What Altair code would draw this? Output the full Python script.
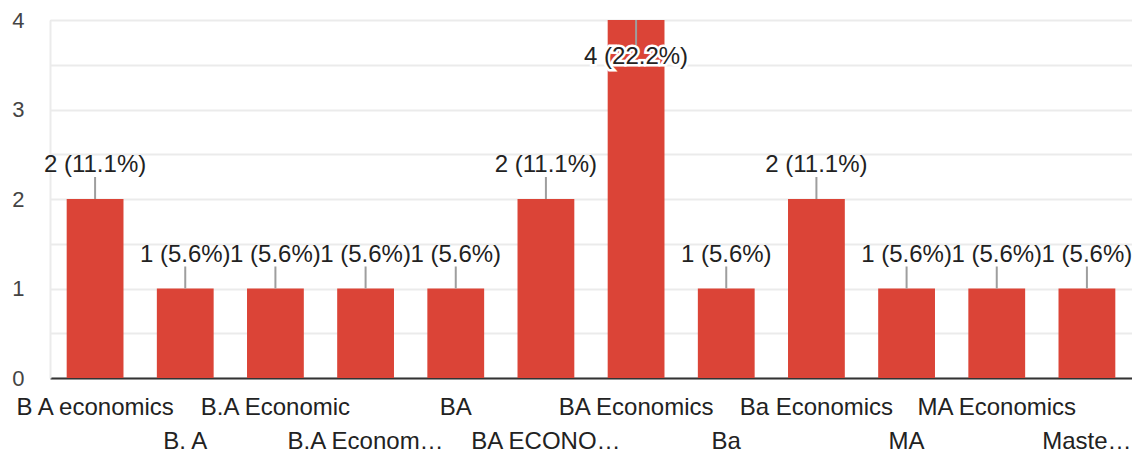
import altair as alt
import pandas as pd
import json

categories = ["B A economics", "B. A", "B.A Economic", "B.A Econom…", "BA",
              "BA ECONO…", "BA Economics", "Ba", "Ba Economics", "MA",
              "MA Economics", "Maste…"]
counts = [2, 1, 1, 1, 1, 2, 4, 1, 2, 1, 1, 1]

total = sum(counts)
df = pd.DataFrame({
    "cat": categories,
    "count": counts,
    "label": [f"{c} ({c / total * 100:.1f}%)" for c in counts],
})
vmax = max(counts)

FONT = "Liberation Sans"
RED = "#db4437"
FS = 24

cats_js = json.dumps(categories)
x_enc = alt.X(
    "cat:N", sort=categories, title=None,
    scale=alt.Scale(paddingInner=0.37, paddingOuter=0.185),
    axis=alt.Axis(
        labelAngle=0, ticks=False, domainColor="#333333", domainWidth=2,
        labelFont=FONT, labelFontSize=FS, labelColor="#222222",
        labelBaseline="top", labelPadding=17, labelLineHeight=34,
        labelOverlap=False, labelLimit=400, labelBound=False,
        labelExpr=f"indexof({cats_js}, datum.value) % 2 == 1 ? ['', datum.value] : datum.value",
    ),
)
y_scale = alt.Scale(domain=[0, 4], nice=False)
y_enc = alt.Y(
    "count:Q", title=None, scale=y_scale,
    axis=alt.Axis(
        values=[0, 0.5, 1, 1.5, 2, 2.5, 3, 3.5, 4],
        labelExpr="datum.value % 1 == 0 ? format(datum.value, 'd') : ''",
        grid=True, gridColor="#ebebeb", gridWidth=2,
        domain=True, domainColor="#ebebeb", domainWidth=2,
        ticks=False, labelFont=FONT, labelFontSize=22, labelColor="#444444",
        labelPadding=26,
    ),
)

base = alt.Chart(df)

bars = base.mark_bar(color=RED).encode(x=x_enc, y=y_enc)

outside = base.transform_filter(f"datum.count < {vmax}")
inside = base.transform_filter(f"datum.count >= {vmax}")

lead_out = outside.transform_calculate(end="datum.count + 0.246").mark_rule(
    color="#9e9e9e", strokeWidth=2
).encode(x=alt.X("cat:N", sort=categories), y=alt.Y("count:Q", scale=y_scale),
         y2="end:Q")
lead_in = inside.transform_calculate(end="datum.count - 0.28").mark_rule(
    color="#9e9e9e", strokeWidth=2
).encode(x=alt.X("cat:N", sort=categories), y=alt.Y("count:Q", scale=y_scale),
         y2="end:Q")

text_out = outside.mark_text(
    font=FONT, fontSize=FS, color="#222222", baseline="middle", dy=-34
).encode(x=alt.X("cat:N", sort=categories), y=alt.Y("count:Q", scale=y_scale),
         text="label:N")

halo_in = inside.mark_text(
    font=FONT, fontSize=FS, color="white", stroke="white", strokeWidth=5,
    baseline="middle", dy=37
).encode(x=alt.X("cat:N", sort=categories), y=alt.Y("count:Q", scale=y_scale),
         text="label:N")
text_in = inside.mark_text(
    font=FONT, fontSize=FS, color="#222222", baseline="middle", dy=37
).encode(x=alt.X("cat:N", sort=categories), y=alt.Y("count:Q", scale=y_scale),
         text="label:N")

chart = alt.layer(bars, lead_out, lead_in, text_out, halo_in, text_in).properties(
    width=1082, height=358,
    autosize=alt.AutoSizeParams(type="none"),
    padding={"left": 42, "top": 12, "right": 0, "bottom": 90},
).configure_view(stroke=None).configure(background="white")

chart.save("out.html", embed_options={"renderer": "svg", "actions": False})
